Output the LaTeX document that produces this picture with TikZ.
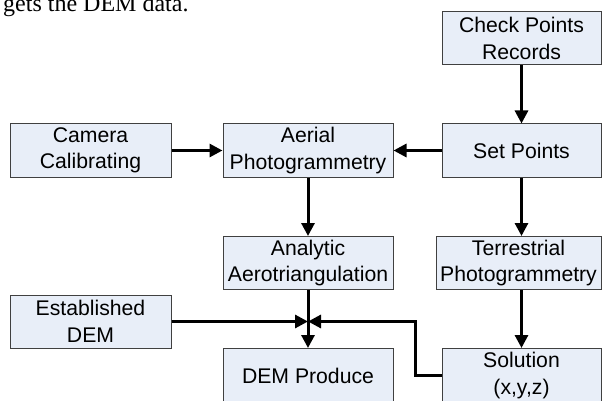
\documentclass[tikz,border=0pt]{standalone}
\usepackage{fontspec}
\setmainfont{Liberation Sans}
\newfontfamily\captionfont{Liberation Serif}
\usetikzlibrary{arrows.meta}
\definecolor{boxfill}{RGB}{232,238,248}
\definecolor{boxline}{RGB}{64,64,64}
\tikzstyle{proc} = [rectangle, draw=boxline, line width=1pt, fill=boxfill, align=center, inner sep=0pt, minimum height=53pt, font=\fontsize{21.2}{26.5}\selectfont]
\tikzstyle{flow} = [->, line width=3pt]

\begin{document}
\begin{tikzpicture}[x=1pt,y=-1pt,>={Triangle[length=13pt,width=13pt]}]
  \useasboundingbox (0,0) rectangle (602,401);
  \node[anchor=base west, inner sep=0pt, font=\captionfont\fontsize{24}{28}\selectfont] (cap) at (3,11.5) {gets the DEM data.};

  \node[proc, minimum width=159pt] (chk) at (521.5,38.5) {Check Points\\Records};
  \node[proc, minimum width=161pt] (cam) at (90.5,150.5) {Camera\\Calibrating};
  \node[proc, minimum width=170pt] (aer) at (308,150.5) {Aerial\\Photogrammetry};
  \node[proc, minimum width=159pt] (set) at (521.5,150.5) {Set Points};
  \node[proc, minimum width=170pt] (ana) at (308,263) {Analytic\\Aerotriangulation};
  \node[proc, minimum width=165pt] (ter) at (518.5,263) {Terrestrial\\Photogrammetry};
  \node[proc, minimum width=161pt] (est) at (90.5,321.5) {Established\\DEM};
  \node[proc, minimum width=170pt, minimum height=54pt] (dem) at (308,375.5) {DEM Produce};
  \node[proc, minimum width=159pt, minimum height=54pt] (sol) at (521.5,375.5) {Solution\\(x,y,z)};
  \coordinate (meet) at (ana.south |- est.east);

  \draw[flow] (chk) -- (set);
  \draw[flow] (cam) -- (aer);
  \draw[flow] (set) -- (aer);
  \draw[flow] (aer) -- (ana);
  \draw[flow] (set.south) -- (set.south |- ter.north);
  \draw[flow] (sol.north |- ter.south) -- (sol.north);
  \draw[flow] (ana) -- (dem);
  \draw[flow] (est) -- (meet);
  \draw[flow] (sol.west) -- ++(-26,0) |- (meet);
\end{tikzpicture}
\end{document}
